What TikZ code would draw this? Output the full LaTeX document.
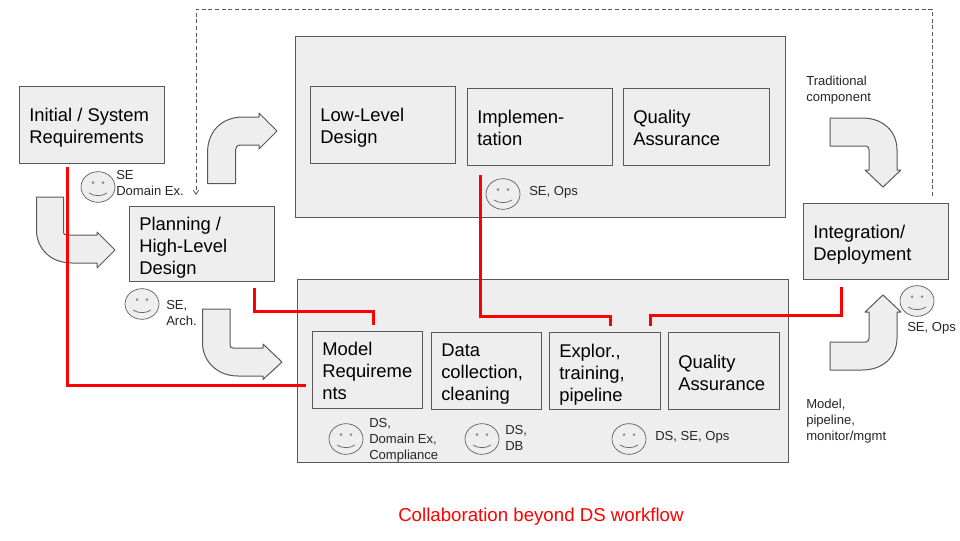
\documentclass[tikz,border=0pt]{standalone}
\usepackage{fontspec}
\setmainfont{Liberation Sans}
\usetikzlibrary{arrows.meta,shapes.geometric}
\definecolor{boxfill}{HTML}{EEEEEE}
\definecolor{boxline}{HTML}{595959}
\tikzset{
  box/.style={draw=boxline,fill=boxfill,line width=0.75pt},
  bentarrow/.style={draw=boxline,fill=boxfill,line width=0.75pt,line join=round},
  face/.style={draw=boxline,fill=boxfill,line width=0.5pt,ellipse,minimum width=25.5pt,minimum height=23pt,inner sep=0pt},
  feature/.style={draw=none,fill=none,align=left,anchor=north west,inner sep=0pt,font=\fontsize{13.8}{16.5}\selectfont},
  small/.style={draw=none,fill=none,align=left,anchor=north west,inner sep=0pt,font=\fontsize{9.8}{12}\selectfont,text=black!85},
  redline/.style={draw=red,line width=2.25pt},
  dashline/.style={draw=boxline,line width=0.6pt,dash pattern=on 3pt off 2pt},
}
\newcommand{\smiley}[3]{%
  \node[face] (#1) at (#2,#3) {};
  \fill[boxline!70] (#2-5,#3-4.3) circle (1.1pt) (#2+5,#3-4.3) circle (1.1pt);
  \draw[boxline,line width=0.5pt] (#2-9,#3+6) .. controls (#2-4,#3+9.5) and (#2+4,#3+9.5) .. (#2+9,#3+6);
}
\begin{document}
\begin{tikzpicture}[x=0.75pt,y=-0.75pt]
\useasboundingbox (0,0) rectangle (960,540);
% large panels
\draw[box] (295,36) rectangle (785,217);
\draw[box] (297.5,279) rectangle (788,462);
% bent arrows
\draw[bentarrow] (207.5,183.5) -- (207.5,153) .. controls (207.5,131) and (222,117) .. (243,117) -- (259,117) -- (259,113) -- (277,131) -- (259,149) -- (259,145) -- (241,145) .. controls (237,145) and (235.5,147) .. (235.5,150) -- (235.5,183.5) -- cycle;
\draw[bentarrow] (36.5,197) -- (63.5,197) -- (63.5,232) .. controls (63.5,234) and (64,235) .. (67,235) -- (97,235) -- (97,232) -- (115,250) -- (97,268) -- (97,263) -- (72,263) .. controls (50,263) and (36.5,248) .. (36.5,230) -- cycle;
\draw[bentarrow] (202.5,309) -- (230,309) -- (230,345) .. controls (230,347) and (231,348) .. (233,348) -- (263,348) -- (263,344) -- (282,362) -- (263,379.5) -- (263,376) -- (238,376) .. controls (216,376) and (202.5,360) .. (202.5,343) -- cycle;
\draw[bentarrow] (830,118) -- (862,118) .. controls (884,118) and (897,132) .. (897,150) -- (897,170) -- (901,170) -- (883,187) -- (865,170) -- (869,170) -- (869,150) .. controls (869,148) and (868,146) .. (866,146) -- (830,146) -- cycle;
\draw[bentarrow] (830,370) -- (862,370) .. controls (884,370) and (897,356) .. (897,338) -- (897,312) -- (901,312) -- (883,295) -- (865,312) -- (869,312) -- (869,338) .. controls (869,340) and (868,342) .. (866,342) -- (830,342) -- cycle;
% boxes
\node[box,minimum width=108.75pt,minimum height=57.75pt,inner sep=0pt] (initial) at (92,125) {};
\node[box,minimum width=108.75pt,minimum height=56.5pt,inner sep=0pt] (planning) at (202,244.25) {};
\node[box,minimum width=108.75pt,minimum height=57.75pt,inner sep=0pt] (lowlevel) at (383,124.5) {};
\node[box,minimum width=108.75pt,minimum height=57.75pt,inner sep=0pt] (impl) at (539.5,126.5) {};
\node[box,minimum width=109.5pt,minimum height=57.75pt,inner sep=0pt] (qa) at (696,126.5) {};
\node[box,minimum width=82.5pt,minimum height=57.75pt,inner sep=0pt] (modelreq) at (367,369.5) {};
\node[box,minimum width=82.5pt,minimum height=57.75pt,inner sep=0pt] (data) at (486.5,370.5) {};
\node[box,minimum width=83.25pt,minimum height=57.75pt,inner sep=0pt] (explor) at (604.5,370.5) {};
\node[box,minimum width=83.25pt,minimum height=57.75pt,inner sep=0pt] (qatwo) at (723.5,370.5) {};
\node[box,minimum width=108.75pt,minimum height=57pt,inner sep=0pt] (integ) at (875.5,241) {};
% box labels
\node[feature] (tinitial) at (29,108) {Initial / System\\Requirements};
\node[feature] (tplanning) at (139,217) {Planning /\\High-Level\\Design};
\node[feature] (tlow) at (320,108) {Low-Level\\Design};
\node[feature] (timpl) at (477,110) {Implemen-\\tation};
\node[feature] (tqa) at (633,110) {Quality\\Assurance};
\node[feature] (tmodel) at (322,342) {Model\\Requireme\\nts};
\node[feature] (tdata) at (441,344) {Data\\collection,\\cleaning};
\node[feature] (texp) at (559,344) {Explor.,\\training,\\pipeline};
\node[feature] (tqa2) at (678,355) {Quality\\Assurance};
\node[feature] (tint) at (813,225) {Integration/\\Deployment};
% smileys
\smiley{f1}{98}{187}
\smiley{f2}{142}{304}
\smiley{f3}{503}{194}
\smiley{f4}{346}{439}
\smiley{f5}{482}{439}
\smiley{f6}{629}{439}
\smiley{f7}{917}{301}
% small labels
\node[small] (s1) at (116,170) {SE\\Domain Ex.};
\node[small] (s2) at (166,300) {SE,\\Arch.};
\node[small] (s3) at (529,186) {SE, Ops};
\node[small] (s4) at (369,418) {DS,\\Domain Ex,\\Compliance};
\node[small] (s5) at (505,425) {DS,\\DB};
\node[small] (s6) at (655,431) {DS, SE, Ops};
\node[small] (s7) at (907,322) {SE, Ops};
\node[small] (s8) at (806,76) {Traditional\\component};
\node[small] (s9) at (806,399) {Model,\\pipeline,\\monitor/mgmt};
\node[draw=none,text=red,anchor=north west,inner sep=0pt,font=\fontsize{14}{16}\selectfont] (title) at (398,508) {Collaboration beyond DS workflow};
% dashed feedback
\coordinate (dashstart) at (932,196);
\coordinate (dashend) at (196,195);
\draw[dashline,-{Straight Barb[length=3pt,width=4pt]}] (dashstart) |- (400,9) -| (dashend);
% red collaboration lines
\coordinate (r1a) at (67,167);
\coordinate (r1b) at (306,385);
\coordinate (r2a) at (254,288);
\coordinate (r2b) at (373,325);
\coordinate (r3a) at (480.5,175);
\coordinate (r3b) at (610,326);
\coordinate (r4a) at (650,326);
\coordinate (r4b) at (841,287);
\draw[redline] (r1a) |- (r1b);
\draw[redline] (r2a) -- (254,311) -| (r2b);
\draw[redline] (r3a) -- (480.5,316) -| (r3b);
\draw[redline] (r4a) -- (650,315) -| (r4b);
\end{tikzpicture}
\end{document}
